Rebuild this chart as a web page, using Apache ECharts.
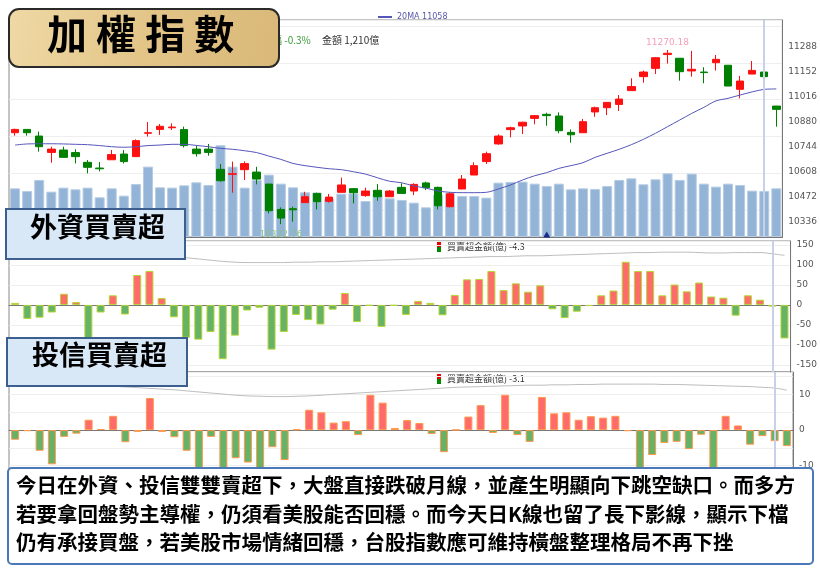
<!DOCTYPE html>
<html><head><meta charset="utf-8">
<script src="https://cdn.jsdelivr.net/npm/echarts@6/dist/echarts.min.js"></script>
<style>html,body{margin:0;padding:0;background:#fff}#c{width:820px;height:569px}</style>
</head><body><div id="c"></div>
<script>
const categories = Array.from({length:64},(_,i)=>String(i+1));
// [open, close, low, high]
const ohlc = [
[10820,10838,10804,10842],[10838,10820,10804,10838],[10802,10744,10717,10826],[10713,10731,10657,10744],
[10726,10686,10686,10744],[10712,10690,10653,10730],[10659,10632,10599,10672],[10628,10624,10610,10661],
[10673,10701,10673,10726],[10704,10663,10653,10726],[10690,10777,10690,10784],[10817,10820,10799,10878],
[10838,10855,10808,10867],[10847,10851,10835,10871],[10837,10750,10740,10853],[10731,10706,10690,10750],
[10731,10713,10695,10759],[10621,10559,10554,10650],[10594,10597,10494,10663],[10619,10652,10563,10664],
[10606,10568,10539,10635],[10541,10396,10381,10541],[10403,10356,10323,10414],[10407,10401,10336,10418],
[10440,10472,10440,10499],[10490,10445,10403,10494],[10447,10470,10440,10487],[10496,10536,10496,10576],
[10516,10494,10436,10518],[10478,10503,10472,10521],[10507,10472,10450,10541],[10472,10503,10472,10508],
[10523,10490,10490,10545],[10503,10539,10481,10545],[10547,10521,10508,10554],[10523,10423,10403,10527],
[10418,10488,10414,10497],[10514,10568,10514,10590],[10590,10641,10590,10659],[10663,10706,10650,10717],
[10759,10802,10755,10811],[10837,10847,10795,10853],[10857,10877,10813,10880],[10898,10913,10866,10916],
[10920,10913,10858,10929],[10911,10831,10817,10931],[10822,10809,10766,10838],[10820,10880,10820,10895],
[10933,10956,10907,10962],[10956,10985,10916,10985],[10974,11003,10938,11025],[11049,11071,11049,11116],
[11125,11150,11092,11158],[11170,11228,11139,11230],[11245,11252,11196,11270.18],[11225,11152,11103,11225],
[11156,11165,11125,11265],[11150,11147,11089,11176],[11201,11219,11158,11243],[11187,11074,11074,11187],
[11056,11101,11007,11129],[11139,11159,11139,11210],[11150,11125,11067,11158],[10965,10947,10853,10965]];
const ma20 = [10753,10759,10760,10760,10759,10757,10755,10750,10744,10741,10744,10750,10753,10757,10757,10751,
10744,10735,10730,10722,10712,10693,10675,10653,10641,10632,10624,10619,10608,10595,10575,10556,
10548,10530,10519,10503,10496,10494,10494,10496,10514,10536,10563,10586,10603,10626,10641,10657,
10686,10708,10730,10755,10784,10817,10853,10889,10925,10958,10993,11007,11025,11042,11056,11058];
const volume = [1210,1144,1418,1127,1227,1185,1227,987,1210,1028,1318,1749,1235,1227,1285,1360,
1293,2280,1749,1227,1418,1550,1326,1235,1111,1103,953,1078,1086,895,1086,962,
920,854,738,1045,1086,1020,1020,978,1351,1368,1376,1326,1268,1326,1185,1210,
1194,1268,1418,1459,1310,1434,1583,1418,1575,1326,1252,1326,1293,1152,1144,1210];
const foreign = [5,-35,-32,-19,28,7,-87,-19,24,-24,75,85,17,-31,-82,-87,
-68,-136,-77,-14,-7,-112,-68,-25,-38,-49,-12,30,-43,-2,-55,-2,
-25,10,5,-26,25,64,65,85,37,54,33,49,-11,-33,-17,-3,
24,36,108,85,85,24,51,34,56,21,18,-27,24,13,-4.3,-84];
const trust = [-2.7,-0.3,-5.8,-9.6,-1.9,-1,2.9,0.3,4,-3.4,-0.5,9,-0.5,-2,-5.8,-13,
-1.9,-12,-7.9,-9.1,-11,-4.8,-8.4,0.2,5.7,5,2.1,2.5,-1.4,9.9,7.7,0.6,
2.8,2,-1.1,-6.2,0.1,3.8,7,-0.8,9.9,-1.4,-3.3,9.3,4.7,5,2.9,3.9,
3.5,4,-0.3,-11,-7,-3.6,-3.3,-5.3,-1.3,-11,4,1.3,-4.1,-1.7,-3.1,-4.5];
const foreignTrend = [133,132,131,131,130,129,128,127,126,125,124,123,122,120,118,115,112,109,107,106,106,
106,106,107,107,108,108,109,110,111,112,113,114,115,116,117,118,119,120,121,121,
122,123,123,124,125,126,127,128,129,130,131,131,132,132,132,131,130,130,131,131,131,128,124];
const trustTrend = [13.7,13.6,13.5,13.3,13.1,12.9,12.7,12.5,12.3,12.1,11.9,11.7,11.5,11.3,11.0,10.7,10.4,10.1,9.8,9.6,9.5,
9.4,9.4,9.5,9.6,9.8,10.0,10.2,10.4,10.6,10.8,11.0,11.2,11.4,11.6,11.8,12.0,12.1,12.2,12.3,12.4,
12.5,12.6,12.6,12.7,12.7,12.8,12.8,12.9,12.9,12.9,12.9,12.9,12.8,12.8,12.7,12.6,12.5,12.4,12.3,12.2,12.0,11.8,11.2];
const priceTicks = [10336,10472,10608,10744,10880,11016,11152,11288];
const foreignTicks = [-150,-100,-50,0,50,100,150];
const trustTicks = [-10,0,10];
const cursorIndex = 62;
const highMark = {idx:54, val:11270.18}, lowMark = {idx:22, val:10322.76};
const arrowIndex = 44;
const textLines = ['今日在外資、投信雙雙賣超下，大盤直接跌破月線，並產生明顯向下跳空缺口。而多方',
'若要拿回盤勢主導權，仍須看美股能否回穩。而今天日K線也留了長下影線，顯示下檔',
'仍有承接買盤，若美股市場情緒回穩，台股指數應可維持橫盤整理格局不再下挫'];

const chart = echarts.init(document.getElementById('c'));
const F = '"Noto Sans CJK TC","Noto Sans",sans-serif';
const axisLbl = {color:'#555',fontSize:9,fontFamily:'"DejaVu Sans"',formatter:v=>String(v)};
const split = {show:true,lineStyle:{color:'#eeeeee'}};
function xa(g){return {type:'category',gridIndex:g,data:categories,boundaryGap:true,
 axisLine:{show:true,lineStyle:{color:'#777'}},axisTick:{show:false},axisLabel:{show:false},splitLine:{show:false}};}
function ya(g,min,max,ticks){return {type:'value',gridIndex:g,position:'right',min:min,max:max,
 axisLine:{show:true,lineStyle:{color:'#777'}},axisTick:{show:false},
 axisLabel:Object.assign({customValues:ticks,margin:6},axisLbl),
 splitLine:split, scale:true};}
const cursorLine = {silent:true,symbol:'none',label:{show:false},lineStyle:{color:'#c8d0ea',width:2,type:'solid'},data:[{xAxis:cursorIndex}]};
const posNeg = (up,dn)=>p=>p.value>=0?up:dn;
chart.setOption({
 animation:false,
 grid:[{left:9,right:27,top:20,height:217,show:true,borderColor:'#888'},
       {left:9,right:27,top:241,height:131,show:true,borderColor:'#888'},
       {left:9,right:27,top:372,height:103,show:true,borderColor:'#888'}],
 legend:{data:['20MA'],left:372,top:8,itemWidth:14,itemHeight:2,
   textStyle:{fontSize:8,color:'#5555aa',fontFamily:'"DejaVu Sans"'},
   formatter:n=>n+' '+ma20[ma20.length-1]},
 xAxis:[xa(0),xa(0),xa(1),xa(2)].map((a,i)=>i===1?Object.assign(a,{show:false}):a),
 yAxis:[ya(0,10253,11433,priceTicks),
   {type:'value',gridIndex:0,min:0,max:5392,show:false,splitLine:{show:false}},
   ya(1,-168,160,foreignTicks),ya(2,-12.6,16.3,trustTicks)],
 series:[
  {type:'bar',name:'vol',xAxisIndex:1,yAxisIndex:1,data:volume,barWidth:10,
   itemStyle:{color:'#93b4d6',borderColor:'#b7cde4',borderWidth:1},
   markPoint:{symbol:'triangle',symbolSize:[7,6],itemStyle:{color:'#1a2a8a'},label:{show:false},
     data:[{coord:[arrowIndex,60]}]},
   markLine:cursorLine},
  {type:'candlestick',xAxisIndex:0,yAxisIndex:0,data:ohlc,barWidth:8,
   itemStyle:{color:'#ff1010',color0:'#008000',borderColor:'#ff1010',borderColor0:'#008000',borderWidth:1},
   markPoint:{symbol:'circle',symbolSize:0,
     data:[{coord:[highMark.idx,highMark.val],label:{show:true,formatter:String(highMark.val),position:'top',distance:3,color:'#f4a0b8',fontSize:9,fontFamily:'"DejaVu Sans"'}},
           {coord:[lowMark.idx,lowMark.val],label:{show:true,formatter:String(lowMark.val),position:'bottom',distance:6,color:'#8cc08c',fontSize:9,fontFamily:'"DejaVu Sans"'}}]}},
  {type:'line',name:'20MA',xAxisIndex:0,yAxisIndex:0,data:ma20,symbol:'none',smooth:0.3,
   lineStyle:{color:'#5555bb',width:1},itemStyle:{color:'#5555bb'}},
  {type:'line',xAxisIndex:2,yAxisIndex:2,data:foreignTrend,symbol:'none',smooth:0.4,lineStyle:{color:'#bbb',width:1}},
  {type:'bar',xAxisIndex:2,yAxisIndex:2,data:foreign,barWidth:8,
   itemStyle:{color:posNeg('#ff6b6b','#66b266'),borderColor:posNeg('#ff3030','#3d9a3d'),borderWidth:1},
   markLine:cursorLine},
  {type:'line',xAxisIndex:3,yAxisIndex:3,data:trustTrend,symbol:'none',smooth:0.4,lineStyle:{color:'#bbb',width:1}},
  {type:'bar',xAxisIndex:3,yAxisIndex:3,data:trust,barWidth:8,
   itemStyle:{color:posNeg('#ff6b6b','#66b266'),borderColor:posNeg('#ff3030','#3d9a3d'),borderWidth:1},
   markLine:cursorLine}
 ],
 graphic:[
  {type:'text',left:262,top:35,z:5,style:{text:'漲幅 -0.3%',fill:'#3a9a3a',font:'10px '+F}},
  {type:'text',left:322,top:35,z:5,style:{text:'金額 1,210億',fill:'#333',font:'10px '+F}},
  {type:'group',left:437,top:242,z:5,children:[
    {type:'rect',shape:{x:0,y:0,width:4,height:5},style:{fill:'#e00'}},
    {type:'rect',shape:{x:0,y:5,width:4,height:5},style:{fill:'#080'}},
    {type:'text',x:10,y:0,style:{text:'買賣超金額(億) '+foreign[cursorIndex],fill:'#333',font:'9px '+F}}]},
  {type:'group',left:437,top:374,z:5,children:[
    {type:'rect',shape:{x:0,y:0,width:4,height:5},style:{fill:'#e00'}},
    {type:'rect',shape:{x:0,y:5,width:4,height:5},style:{fill:'#080'}},
    {type:'text',x:10,y:0,style:{text:'買賣超金額(億) '+trust[cursorIndex],fill:'#333',font:'9px '+F}}]},
  {type:'rect',left:8,top:8,z:20,shape:{width:270,height:58,r:10},
   style:{fill:new echarts.graphic.LinearGradient(0,0,1,1,[{offset:0,color:'#efd9a6'},{offset:0.5,color:'#e3c588'},{offset:1,color:'#d9b878'}]),stroke:'#2a2a2a',lineWidth:2}},
  {type:'text',left:47,top:14,z:21,style:{text:'加 權 指 數',fill:'#000',font:'bold 40px '+F}},
  {type:'rect',left:5,top:208,z:20,shape:{width:179,height:50},style:{fill:'#d9e8f7',stroke:'#3d5f90',lineWidth:2}},
  {type:'text',left:30,top:213,z:21,style:{text:'外資買賣超',fill:'#000',font:'bold 27px '+F}},
  {type:'rect',left:6,top:337,z:20,shape:{width:180,height:48},style:{fill:'#d9e8f7',stroke:'#3d5f90',lineWidth:2}},
  {type:'text',left:32,top:341,z:21,style:{text:'投信買賣超',fill:'#000',font:'bold 27px '+F}},
  {type:'rect',left:7,top:467,z:20,shape:{width:805,height:96,r:4},style:{fill:'#fff',stroke:'#4a78b8',lineWidth:2}},
  {type:'text',left:16,top:471,z:21,style:{text:textLines.join('\n'),fill:'#000',font:'bold 20.5px '+F,lineHeight:28.5}}
 ]
});
</script></body></html>
